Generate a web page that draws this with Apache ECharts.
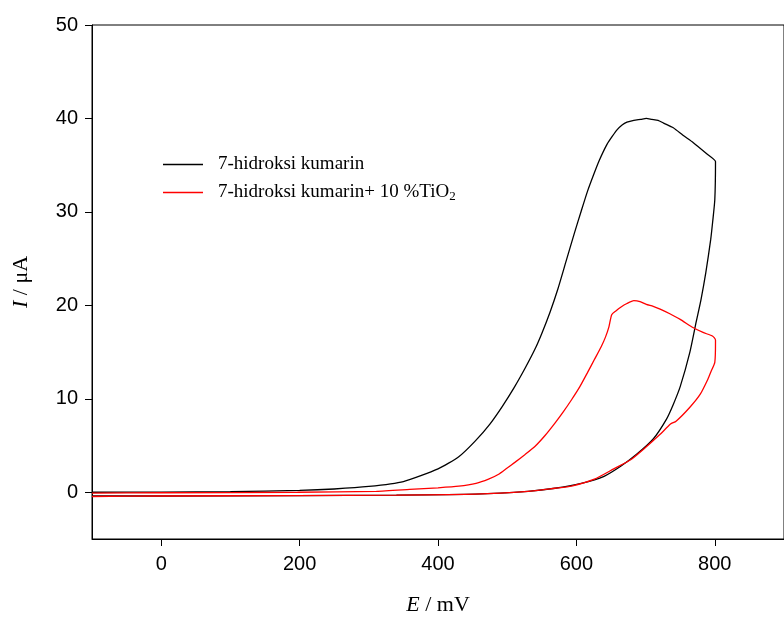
<!DOCTYPE html>
<html>
<head>
<meta charset="utf-8">
<script src="https://cdn.jsdelivr.net/npm/echarts@6/dist/echarts.min.js"></script>
<style>
  html, body { margin: 0; padding: 0; background: #fff; }
  #echartsMain { width: 784px; height: 621px; }
</style>
</head>
<body>
<div id="echartsMain"></div>
<script>
// 7-hidroksi kumarin: anodic scan (E, I) then return scan
var kumarinFwdE = [-100, 0, 100, 200, 250, 300, 350, 400, 430, 454, 475, 493, 510, 526, 540, 550, 562, 573, 585, 597, 607, 616, 625, 633, 644, 652, 659, 666, 673, 683, 693, 701, 709, 718, 726, 740, 754, 769, 787, 801];
var kumarinFwdI = [0.0, 0.02, 0.06, 0.2, 0.35, 0.62, 1.15, 2.5, 3.8, 5.5, 7.3, 9.2, 11.2, 13.3, 15.3, 17.0, 19.3, 21.7, 24.7, 27.7, 30.1, 32.2, 34.0, 35.5, 37.2, 38.1, 38.8, 39.3, 39.6, 39.8, 39.9, 40.0, 39.9, 39.8, 39.5, 39.0, 38.2, 37.4, 36.3, 35.4];
var kumarinRevE = [801, 800, 797, 794, 787, 780, 773, 764, 750, 740, 730, 711, 687, 664, 640, 607, 569, 530, 454, 340, 197, 0, -100];
var kumarinRevI = [35.3, 31.3, 29.0, 27.0, 23.5, 20.6, 18.2, 15.0, 11.3, 9.4, 7.8, 5.7, 4.06, 2.78, 1.71, 0.96, 0.43, 0.1, -0.2, -0.3, -0.35, -0.4, -0.4];

// 7-hidroksi kumarin + 10 %TiO2
var tioFwdE = [-100, 0, 197, 311, 359, 400, 430, 455, 473, 487, 500, 511, 525, 540, 555, 569, 581, 593, 605, 616, 626, 636, 642, 647, 651, 657, 664, 673, 683, 692, 701, 711, 721, 735, 750, 769, 783, 797, 801];
var tioFwdI = [-0.1, -0.05, 0.0, 0.1, 0.3, 0.48, 0.65, 0.95, 1.4, 1.9, 2.6, 3.2, 4.0, 4.9, 6.1, 7.4, 8.6, 9.9, 11.3, 12.8, 14.2, 15.6, 16.6, 17.7, 19.0, 19.4, 19.8, 20.2, 20.5, 20.4, 20.1, 19.9, 19.6, 19.1, 18.5, 17.6, 17.1, 16.7, 16.3];
var tioRevE = [801, 800, 795, 790, 779, 764, 744, 736, 721, 697, 679, 654, 626, 593, 569, 530, 454, 340, 197, 0, -100];
var tioRevI = [16.0, 13.9, 13.0, 12.1, 10.5, 9.1, 7.6, 7.3, 6.2, 4.6, 3.5, 2.5, 1.4, 0.65, 0.43, 0.1, -0.2, -0.3, -0.35, -0.4, -0.45];

var xTicks = [0, 200, 400, 600, 800];
var yTicks = [0, 10, 20, 30, 40, 50];
var seriesNames = ['7-hidroksi kumarin', '7-hidroksi kumarin+ 10 %TiO2'];

function pairs(es, is) {
  var out = [];
  for (var i = 0; i < es.length; i++) out.push([es[i], is[i]]);
  return out;
}

var myChart = echarts.init(document.getElementById('echartsMain'));

var option = {
  animation: false,
  backgroundColor: '#fff',
  grid: {
    left: 92, top: 25, right: -8, bottom: 81,
    show: true, borderColor: '#000', borderWidth: 1
  },
  legend: {
    orient: 'vertical',
    left: 163, top: 155, padding: 0,
    icon: 'rect',
    itemWidth: 40, itemHeight: 1.5, itemGap: 9,
    data: seriesNames,
    formatter: function (name) {
      if (name.indexOf('TiO2') >= 0) return '{t|7-hidroksi kumarin+ 10 %TiO}{sub|2}';
      return '{t|' + name + '}';
    },
    textStyle: {
      rich: {
        t: { fontFamily: 'Liberation Serif', fontSize: 19, color: '#000', padding: [0, 0, 0, 10] },
        sub: { fontFamily: 'Liberation Serif', fontSize: 13, color: '#000', verticalAlign: 'bottom', padding: [8, 0, 0, 0] }
      }
    }
  },
  xAxis: {
    type: 'value',
    min: -100, max: 900,
    name: '{i|E}{r| / mV}',
    nameLocation: 'middle', nameGap: 55,
    nameTextStyle: {
      rich: {
        i: { fontFamily: 'Liberation Serif', fontStyle: 'italic', fontSize: 22, color: '#000' },
        r: { fontFamily: 'Liberation Serif', fontSize: 22, color: '#000' }
      }
    },
    splitLine: { show: false },
    axisLine: { onZero: false, lineStyle: { color: '#000', width: 1 } },
    axisTick: { show: true, inside: false, length: 7, customValues: xTicks, lineStyle: { color: '#000' } },
    axisLabel: { customValues: xTicks, margin: 15, fontFamily: 'Liberation Sans', fontSize: 20, color: '#000' }
  },
  yAxis: {
    type: 'value',
    min: -5, max: 50,
    name: '{i|I}{r| / μA}',
    nameLocation: 'middle', nameGap: 60, nameRotate: 90,
    nameTextStyle: {
      rich: {
        i: { fontFamily: 'Liberation Serif', fontStyle: 'italic', fontSize: 22, color: '#000' },
        r: { fontFamily: 'Liberation Serif', fontSize: 22, color: '#000' }
      }
    },
    splitLine: { show: false },
    axisLine: { show: true, onZero: false, lineStyle: { color: '#000', width: 1 } },
    axisTick: { show: true, inside: false, length: 7, customValues: yTicks, lineStyle: { color: '#000' } },
    axisLabel: { customValues: yTicks, margin: 14, fontFamily: 'Liberation Sans', fontSize: 20, color: '#000' }
  },
  series: [{
    name: seriesNames[0],
    type: 'line',
    symbol: 'none',
    smooth: 0.2,
    lineStyle: { color: '#000', width: 1.3 },
    itemStyle: { color: '#000' },
    data: pairs(kumarinFwdE, kumarinFwdI).concat(pairs(kumarinRevE, kumarinRevI))
  }, {
    name: seriesNames[1],
    type: 'line',
    symbol: 'none',
    smooth: 0.2,
    lineStyle: { color: '#ff0000', width: 1.3 },
    itemStyle: { color: '#ff0000' },
    data: pairs(tioFwdE, tioFwdI).concat(pairs(tioRevE, tioRevI))
  }]
};

myChart.setOption(option);
</script>
</body>
</html>
